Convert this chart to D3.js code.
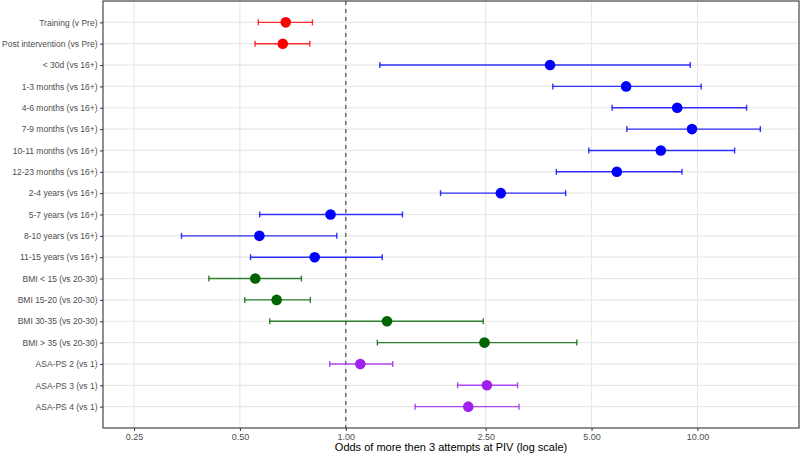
<!DOCTYPE html>
<html>
<head>
<meta charset="utf-8">
<script src="https://cdn.jsdelivr.net/npm/d3@7"></script>
<style>
  body { margin: 0; background: #fff; }
  text { font-family: "Liberation Sans", Arial, sans-serif; }
</style>
</head>
<body>
<div id="chart"></div>
<script>
// Data
const labels = [
    'Training (v Pre)', 'Post intervention (vs Pre)', '< 30d (vs 16+)',
    '1-3 months (vs 16+)', '4-6 months (vs 16+)', '7-9 months (vs 16+)',
    '10-11 months (vs 16+)', '12-23 months (vs 16+)', '2-4 years (vs 16+)',
    '5-7 years (vs 16+)', '8-10 years (vs 16+)', '11-15 years (vs 16+)',
    'BMI < 15 (vs 20-30)', 'BMI 15-20 (vs 20-30)', 'BMI 30-35 (vs 20-30)',
    'BMI > 35 (vs 20-30)', 'ASA-PS 2 (vs 1)', 'ASA-PS 3 (vs 1)', 'ASA-PS 4 (vs 1)'
];
const odds  = [0.675, 0.662, 3.81, 6.27, 8.76, 9.65, 7.87, 5.90, 2.76, 0.905, 0.568, 0.816, 0.553, 0.636, 1.31, 2.48, 1.10, 2.52, 2.23];
const lower = [0.564, 0.552, 1.25, 3.88, 5.72, 6.30, 4.91, 3.97, 1.86, 0.569, 0.341, 0.536, 0.408, 0.516, 0.608, 1.23, 0.90, 2.08, 1.575];
const upper = [0.804, 0.790, 9.54, 10.25, 13.8, 15.1, 12.76, 9.04, 4.22, 1.45, 0.943, 1.27, 0.748, 0.793, 2.46, 4.54, 1.36, 3.08, 3.11];
const groups = ['period', 'period', 'age', 'age', 'age', 'age', 'age', 'age', 'age', 'age', 'age', 'age',
    'bmi', 'bmi', 'bmi', 'bmi', 'asa', 'asa', 'asa'];
const groupNames = ['period', 'age', 'bmi', 'asa'];
const pointColors = ['#FF0000', '#0000FF', '#006400', '#A020F0'];
const xTicks = [0.25, 0.5, 1, 2.5, 5, 10];
const xDomain = [0.204, 19.45];

const rows = labels.map((label, i) => ({
    label, or: odds[i], lo: lower[i], hi: upper[i], group: groups[i]
}));

const width = 800, height = 455;
const margin = {top: 1, right: 1, bottom: 27, left: 103};

const svg = d3.select('#chart').append('svg')
    .attr('width', width)
    .attr('height', height);

const x = d3.scaleLog()
    .domain(xDomain)
    .range([margin.left, width - margin.right]);

const y = d3.scalePoint()
    .domain(labels)
    .range([margin.top, height - margin.bottom])
    .padding(1);

const color = d3.scaleOrdinal().domain(groupNames).range(pointColors);

// Grid lines
svg.append('g')
    .selectAll('line')
    .data(labels)
    .join('line')
    .attr('x1', margin.left).attr('x2', width - margin.right)
    .attr('y1', d => y(d)).attr('y2', d => y(d))
    .attr('stroke', '#e8e8e8')
    .attr('stroke-width', 1.2);

svg.append('g')
    .selectAll('line')
    .data(xTicks)
    .join('line')
    .attr('x1', d => x(d)).attr('x2', d => x(d))
    .attr('y1', margin.top).attr('y2', height - margin.bottom)
    .attr('stroke', '#e8e8e8')
    .attr('stroke-width', 1.2);

// Reference line at 1
svg.append('line')
    .attr('x1', x(1)).attr('x2', x(1))
    .attr('y1', margin.top).attr('y2', height - margin.bottom)
    .attr('stroke', '#666')
    .attr('stroke-width', 1.4)
    .attr('stroke-dasharray', '4,4');

// Error bars
const bars = svg.append('g')
    .selectAll('g')
    .data(rows)
    .join('g')
    .attr('stroke', d => color(d.group))
    .attr('stroke-opacity', 0.8)
    .attr('stroke-width', 1.4);

bars.append('line')
    .attr('x1', d => x(d.lo)).attr('x2', d => x(d.hi))
    .attr('y1', d => y(d.label)).attr('y2', d => y(d.label));

bars.append('line')
    .attr('x1', d => x(d.lo)).attr('x2', d => x(d.lo))
    .attr('y1', d => y(d.label) - 3).attr('y2', d => y(d.label) + 3);

bars.append('line')
    .attr('x1', d => x(d.hi)).attr('x2', d => x(d.hi))
    .attr('y1', d => y(d.label) - 3).attr('y2', d => y(d.label) + 3);

// Points
svg.append('g')
    .selectAll('circle')
    .data(rows)
    .join('circle')
    .attr('cx', d => x(d.or))
    .attr('cy', d => y(d.label))
    .attr('r', 5.3)
    .attr('fill', d => color(d.group));

// Panel border
svg.append('rect')
    .attr('x', margin.left).attr('y', margin.top)
    .attr('width', width - margin.left - margin.right)
    .attr('height', height - margin.top - margin.bottom)
    .attr('fill', 'none')
    .attr('stroke', '#333')
    .attr('stroke-width', 1.1);

// Axes
const xAxis = svg.append('g')
    .attr('transform', `translate(0,${height - margin.bottom})`)
    .call(d3.axisBottom(x).tickValues(xTicks).tickFormat(d3.format('.2f')).tickSize(3).tickPadding(3));
xAxis.select('.domain').remove();
xAxis.selectAll('line').attr('stroke', '#333');
xAxis.selectAll('text').attr('fill', '#4d4d4d').attr('font-size', 9);

const yAxis = svg.append('g')
    .attr('transform', `translate(${margin.left},0)`)
    .call(d3.axisLeft(y).tickSize(3).tickPadding(2.5));
yAxis.select('.domain').remove();
yAxis.selectAll('line').attr('stroke', '#333');
yAxis.selectAll('text').attr('fill', '#4d4d4d').attr('font-size', 8.5);

// Axis title
svg.append('text')
    .attr('x', (margin.left + width - margin.right) / 2)
    .attr('y', height - 4)
    .attr('text-anchor', 'middle')
    .attr('font-size', 11)
    .attr('fill', '#000')
    .text('Odds of more then 3 attempts at PIV (log scale)');
</script>
</body>
</html>
